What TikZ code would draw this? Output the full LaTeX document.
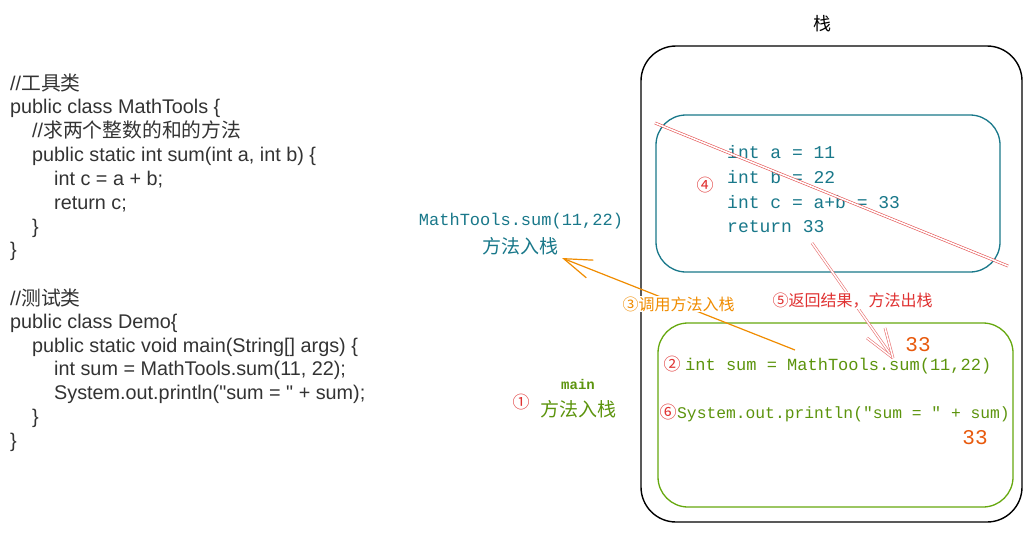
\documentclass[tikz,border=0pt]{standalone}
\usepackage{fontspec}
\setmainfont{Liberation Sans}[Ligatures=TeXOff]
\setmonofont{Liberation Mono}
\newfontfamily\cjk{Noto Sans CJK SC}
\usetikzlibrary{arrows.meta}

\definecolor{codegray}{HTML}{333333}
\definecolor{tealink}{HTML}{19788A}
\definecolor{greenbox}{HTML}{66A80F}
\definecolor{greenink}{HTML}{5C940D}
\definecolor{redink}{HTML}{E03131}
\definecolor{resultink}{HTML}{E8590C}
\definecolor{orangeink}{HTML}{F08C00}

\begin{document}
\begin{tikzpicture}[x=1pt, y=-1pt, >=latex,
    code/.style={anchor=base west, inner sep=0pt, text=codegray, font=\fontsize{19.8}{22}\selectfont},
    hand/.style={anchor=base west, inner sep=0pt, font=\fontsize{18}{22}\ttfamily},
    circnum/.style={inner sep=0pt, text=redink, font=\cjk\fontsize{17}{19}\selectfont},
    result/.style={inner sep=0pt, text=resultink, font=\fontsize{21}{24}\ttfamily},
    steplabel/.style={fill=white, inner sep=1pt, font=\cjk\fontsize{16}{18}\selectfont}]
    \useasboundingbox[fill=white] (0,0) rectangle (1032,533);
    % ==== CODE ====
    \node[code] (tool1) at (10,90) {//{\cjk 工具类}};
    \node[code] (tool2) at (10,113) {public class MathTools \{};
    \node[code] (tool3) at (32,137) {//{\cjk 求两个整数的和的方法}};
    \node[code] (tool4) at (32,161) {public static int sum(int a, int b) \{};
    \node[code] (tool5) at (54,185) {int c = a + b;};
    \node[code] (tool6) at (54,209) {return c;};
    \node[code] (tool7) at (32,233) {\}};
    \node[code] (tool8) at (10,256) {\}};
    \node[code] (demo1) at (10,305) {//{\cjk 测试类}};
    \node[code] (demo2) at (10,328) {public class Demo\{};
    \node[code] (demo3) at (32,352) {public static void main(String[] args) \{};
    \node[code] (demo4) at (54,375) {int sum = MathTools.sum(11, 22);};
    \node[code] (demo5) at (54,399) {System.out.println("sum = " + sum);};
    \node[code] (demo6) at (32,423) {\}};
    \node[code] (demo7) at (10,447) {\}};
    % ==== STACK ====
    \node[font=\cjk\fontsize{18}{20}\selectfont] (stacktitle) at (822,24) {栈};
    \draw[line width=1.4pt, rounded corners=35] (641,46) rectangle (1022,522);
    \draw[tealink, line width=1.3pt, rounded corners=30] (656,115) rectangle (1000,272);
    \draw[greenbox, line width=1.3pt, rounded corners=30] (658,323) rectangle (1013,507);
    % ==== SUM FRAME ====
    \node[circnum] (n4) at (705,185) {④};
    \node[hand, text=tealink] (ta) at (727,158) {int a = 11};
    \node[hand, text=tealink] (tb) at (727,183) {int b = 22};
    \node[hand, text=tealink] (tc) at (727,208) {int c = a+b = 33};
    \node[hand, text=tealink] (tret) at (727,232) {return 33};
    \coordinate (popA) at (655,123);
    \coordinate (popB) at (1008,266);
    \draw[redink!85, line width=0.6pt, double=white, double distance=1.6pt] (popA) -- (popB);
    % ==== MAIN FRAME ====
    \node[circnum] (n2) at (672,364) {②};
    \node[hand, text=greenink, font=\fontsize{17}{20}\ttfamily] (sumline) at (685,370) {int sum = MathTools.sum(11,22)};
    \node[circnum] (n6) at (668,412) {⑥};
    \node[hand, text=greenink, font=\fontsize{16.3}{20}\ttfamily] (printline) at (677,418) {System.out.println("sum = " + sum)};
    \node[result] (res1) at (918,345) {33};
    \node[result] (res2) at (975,438) {33};
    % ==== LABELS ====
    \node[anchor=base, inner sep=0pt, text=tealink, font=\fontsize{17}{20}\ttfamily] (pushcall) at (521,225) {MathTools.sum(11,22)};
    \node[anchor=base, inner sep=0pt, text=tealink, font=\cjk\fontsize{19}{22}\selectfont] (pushlbl) at (520,253) {方法入栈};
    \node[anchor=base, inner sep=0pt, text=greenink, font=\fontsize{14}{16}\ttfamily\bfseries] (mainname) at (578,389) {main};
    \node[circnum] (n1) at (521,402) {①};
    \node[anchor=base, inner sep=0pt, text=greenink, font=\cjk\fontsize{19}{22}\selectfont] (mainlbl) at (578,416) {方法入栈};
    % ==== ARROWS ====
    \coordinate (callpt) at (795,350);
    \coordinate (pushtip) at (562,258);
    \draw[orangeink, line width=1.2pt, -{Straight Barb[length=28pt, width=19pt]}] (callpt) -- node[steplabel, text=orangeink] (calllbl) {③调用方法入栈} (pushtip);
    \coordinate (retstart) at (812,243);
    \coordinate (rettip) at (893,358);
    \draw[redink!70, line width=0.6pt, double=white, double distance=1.5pt] (retstart) -- node[steplabel, text=redink] (retlbl) {⑤返回结果，方法出栈} (rettip);
    \draw[redink!70, line width=0.6pt, double=white, double distance=1.5pt] (rettip) -- ++(-26,-20);
    \draw[redink!70, line width=0.6pt, double=white, double distance=1.5pt] (rettip) -- ++(-8,-30);
\end{tikzpicture}
\end{document}
